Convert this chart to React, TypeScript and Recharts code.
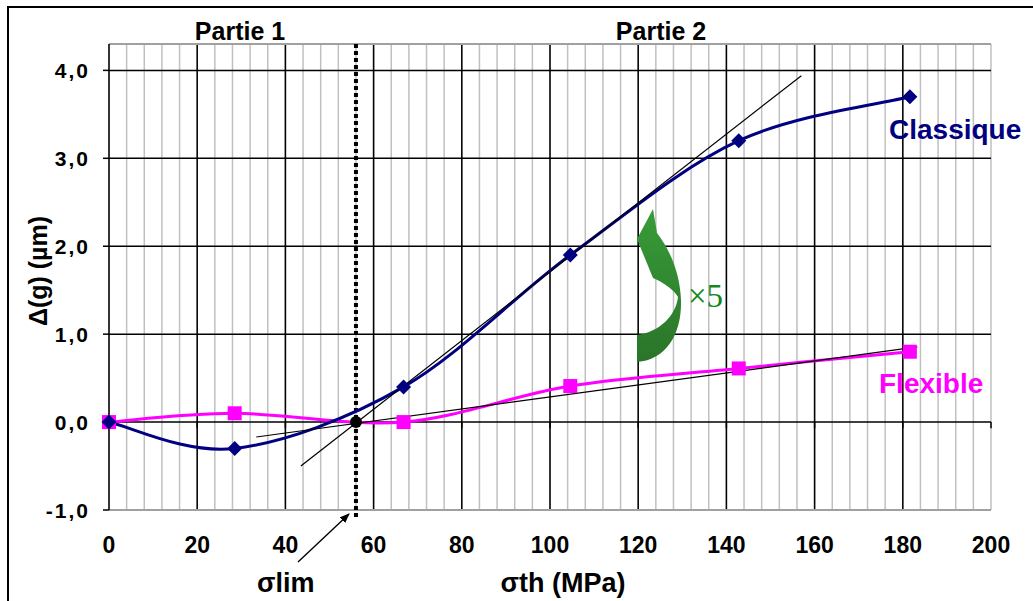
import React from "react";
import {
  LineChart,
  Line,
  XAxis,
  YAxis,
  CartesianGrid,
  ReferenceLine,
  ReferenceDot,
} from "recharts";

// sigma th (MPa) at each measured point
const sigma = [0, 28.5, 66.8, 104.6, 142.8, 181.6];
// delta(g) in µm
const classique = [0, -0.3, 0.4, 1.9, 3.2, 3.7];
const flexible = [0, 0.1, 0.0, 0.41, 0.61, 0.8];

const xGridTicks = [
  0, 4, 8, 12, 16, 20, 24, 28, 32, 36, 40, 44, 48, 52, 56, 60, 64, 68, 72, 76,
  80, 84, 88, 92, 96, 100, 104, 108, 112, 116, 120, 124, 128, 132, 136, 140,
  144, 148, 152, 156, 160, 164, 168, 172, 176, 180, 184, 188, 192, 196, 200,
];
const xMajor = [20, 40, 60, 80, 100, 120, 140, 160, 180];
const xZeroTicks = [20, 40, 60, 80, 100, 120, 140, 160, 180, 200];
const yTicks = [-1, 0, 1, 2, 3, 4];
const yMajor = [0, 1, 2, 3, 4];

const sigmaLim = 56;
const tangentClassique = [
  { x: 43.5, y: -0.5 },
  { x: 157, y: 3.94 },
];
const tangentFlexible = [
  { x: 33.4, y: -0.17 },
  { x: 183.3, y: 0.855 },
];

const data = sigma.map((s, i) => ({
  s,
  classique: classique[i],
  flexible: flexible[i],
}));

const FONT = "'Liberation Sans', Arial, sans-serif";

// Excel style smoothing (uniform Catmull-Rom as cubic bezier)
const excelSmooth = (context: any) => {
  let pts: number[][] = [];
  return {
    areaStart() {},
    areaEnd() {},
    lineStart() {
      pts = [];
    },
    point(x: number, y: number) {
      pts.push([+x, +y]);
    },
    lineEnd() {
      if (!pts.length) return;
      context.moveTo(pts[0][0], pts[0][1]);
      for (let i = 0; i < pts.length - 1; i++) {
        const p0 = pts[i - 1] || pts[i];
        const p1 = pts[i];
        const p2 = pts[i + 1];
        const p3 = pts[i + 2] || p2;
        context.bezierCurveTo(
          p1[0] + (p2[0] - p0[0]) / 6,
          p1[1] + (p2[1] - p0[1]) / 6,
          p2[0] - (p3[0] - p1[0]) / 6,
          p2[1] - (p3[1] - p1[1]) / 6,
          p2[0],
          p2[1]
        );
      }
    },
  };
};

const Diamond = (props: any) => {
  const { cx, cy, index } = props;
  const r = 7.5;
  return (
    <path
      key={`d${index}`}
      d={`M${cx},${cy - r}L${cx + r},${cy}L${cx},${cy + r}L${cx - r},${cy}Z`}
      fill="#000080"
    />
  );
};

const Square = (props: any) => {
  const { cx, cy, index } = props;
  const h = 7;
  return (
    <rect key={`q${index}`} x={cx - h} y={cy - h} width={h * 2} height={h * 2} fill="#ff00ff" />
  );
};

const XTick = (props: any) => {
  const { x, y, payload } = props;
  if (payload.value % 20 !== 0) return <g />;
  return (
    <text
      x={x}
      y={y + 43}
      textAnchor="middle"
      fontFamily={FONT}
      fontWeight="bold"
      fontSize={23}
      fill="#000"
    >
      {payload.value}
    </text>
  );
};

const YTick = (props: any) => {
  const { x, y, payload } = props;
  return (
    <text
      x={x}
      y={y}
      dy="0.36em"
      textAnchor="end"
      fontFamily={FONT}
      fontWeight="bold"
      fontSize={21}
      letterSpacing={2}
      fill="#000"
    >
      {payload.value.toFixed(1).replace(".", ",")}
    </text>
  );
};

export default function App() {
  return (
    <div style={{ position: "absolute", left: 0, top: 0, width: 1033, height: 601, background: "#fff" }}>
      <LineChart
        width={1033}
        height={601}
        data={data}
        margin={{ top: 44, right: 42, bottom: 51, left: 29 }}
      >
        <CartesianGrid horizontal={false} stroke="#c0c0c0" strokeWidth={1.5} />
        {xMajor.map((v) => (
          <ReferenceLine key={`xm${v}`} x={v} stroke="#000" strokeWidth={1.5} />
        ))}
        {yMajor.map((v) => (
          <ReferenceLine key={`ym${v}`} y={v} stroke="#000" strokeWidth={1.5} />
        ))}
        <ReferenceLine y={-1} stroke="#a0a0a0" strokeWidth={2} />
        <ReferenceLine y={4.3} stroke="#a0a0a0" strokeWidth={2} />
        {xZeroTicks.map((v) => (
          <ReferenceLine
            key={`xt${v}`}
            segment={[
              { x: v, y: 0 },
              { x: v, y: -0.07 },
            ]}
            stroke="#000"
            strokeWidth={1.5}
          />
        ))}
        <XAxis
          dataKey="s"
          type="number"
          domain={[0, 200]}
          ticks={xGridTicks}
          interval={0}
          height={40}
          axisLine={false}
          tickLine={false}
          tickSize={0}
          tickMargin={0}
          tick={<XTick />}
        />
        <YAxis
          type="number"
          domain={[-1, 4.3]}
          ticks={yTicks}
          interval={0}
          width={80}
          allowDataOverflow
          axisLine={{ stroke: "#000", strokeWidth: 1.5 }}
          tickLine={{ stroke: "#000", strokeWidth: 1.5 }}
          tickSize={6}
          tickMargin={13}
          tick={<YTick />}
        />
        <ReferenceLine
          segment={[
            { x: sigmaLim, y: 4.3 },
            { x: sigmaLim, y: -1.08 },
          ]}
          ifOverflow="visible"
          stroke="#000"
          strokeWidth={4}
          strokeDasharray="4 3"
        />
        <Line
          dataKey="flexible"
          type={excelSmooth as any}
          stroke="#ff00ff"
          strokeWidth={3}
          dot={<Square />}
          activeDot={false}
          isAnimationActive={false}
        />
        <Line
          dataKey="classique"
          type={excelSmooth as any}
          stroke="#000080"
          strokeWidth={3}
          dot={<Diamond />}
          activeDot={false}
          isAnimationActive={false}
        />
        <ReferenceLine segment={tangentClassique} stroke="#000" strokeWidth={1.2} ifOverflow="visible" />
        <ReferenceLine segment={tangentFlexible} stroke="#000" strokeWidth={1.2} ifOverflow="visible" />
        <ReferenceDot x={sigmaLim} y={0} r={6} fill="#000" stroke="none" />
      </LineChart>

      <svg
        width={1033}
        height={601}
        style={{ position: "absolute", left: 0, top: 0, pointerEvents: "none" }}
      >
        <defs>
          <linearGradient id="greenArrow" x1="0" y1="0" x2="0" y2="1">
            <stop offset="0%" stopColor="#389c38" />
            <stop offset="100%" stopColor="#2a742a" />
          </linearGradient>
          <marker id="head" markerWidth="10" markerHeight="8" refX="9" refY="4" orient="auto" markerUnits="userSpaceOnUse">
            <path d="M0,0 L10,4 L0,8 Z" fill="#000" />
          </marker>
        </defs>
        <path d="M8,601 L8,7 L1033,7" fill="none" stroke="#000" strokeWidth={2} />
        <g fontFamily={FONT} fontWeight="bold">
          <text x={240} y={40} textAnchor="middle" fontSize={25} fill="#000">Partie 1</text>
          <text x={661} y={40} textAnchor="middle" fontSize={25} fill="#000">Partie 2</text>
          <text x={889} y={139} fontSize={28} fill="#000080">Classique</text>
          <text x={879} y={393} fontSize={28} fill="#ff00ff">Flexible</text>
          <text x={563} y={592} textAnchor="middle" fontSize={27} fill="#000">σth (MPa)</text>
          <text x={257} y={592} fontSize={27} fill="#000">σlim</text>
          <text
            x={0}
            y={0}
            transform="translate(47,271) rotate(-90)"
            textAnchor="middle"
            fontSize={25}
            fill="#000"
          >
            Δ(g) (µm)
          </text>
        </g>
        <line x1={298} y1={562} x2={349} y2={514} stroke="#000" strokeWidth={1.3} markerEnd="url(#head)" />
        <path
          d="M653,209 L637,239 L653,278 C665,283 675,291 678,297 C676,315 660,332 637,335 L637,362 C667,360 682,333 681,300 C680,273 670,250 657,233 Z"
          fill="url(#greenArrow)"
        />
        <text x={688} y={307} fontFamily="'Liberation Serif', serif" fontSize={33} fill="#11881a">
          ×5
        </text>
      </svg>
    </div>
  );
}
